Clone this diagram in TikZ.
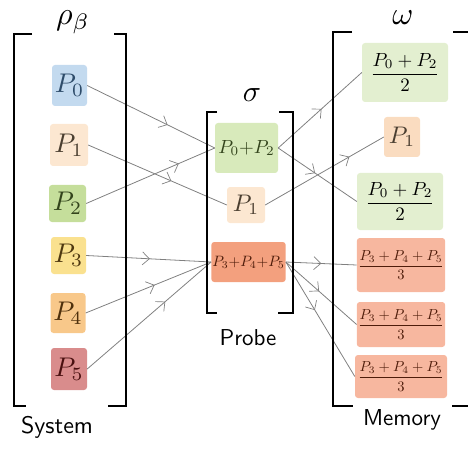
\documentclass[tikz,border=0pt]{standalone}
\usepackage{amsmath}
\usepackage{graphicx}
\usetikzlibrary{arrows.meta,decorations.markings}
\newcommand{\mysz}[2]{\scalebox{#1}{$#2$}}
\definecolor{cBlue}{HTML}{C3DAEF}
\definecolor{tBlue}{HTML}{2E4C6A}
\definecolor{cPeach}{HTML}{FCE7D1}
\definecolor{tPeach}{HTML}{4A3E30}
\definecolor{cGreen}{HTML}{C5DE9B}
\definecolor{tGreen}{HTML}{33441C}
\definecolor{cYellow}{HTML}{FAE18F}
\definecolor{tYellow}{HTML}{4E3810}
\definecolor{cOrange}{HTML}{F8C88A}
\definecolor{tOrange}{HTML}{4E300C}
\definecolor{cRed}{HTML}{D98C8C}
\definecolor{tRed}{HTML}{4A1010}
\definecolor{cLGreen}{HTML}{D8EABB}
\definecolor{cSalmon}{HTML}{F3A07E}
\definecolor{tSalmon}{HTML}{4E1C0A}
\definecolor{cRGreen}{HTML}{E3EFD0}
\definecolor{cRPeach}{HTML}{FADCC0}
\definecolor{cRSalmon}{HTML}{F7B79F}
\definecolor{lineGray}{HTML}{808080}
\tikzset{
  box/.style={fill=#1, rounded corners=3pt, inner sep=1pt, anchor=center},
  flow/.style={draw=lineGray, line width=0.8pt, postaction={decorate},
    decoration={markings, mark=at position #1 with {\arrow{Straight Barb[length=7pt,width=13pt,line width=0.7pt]}}}},
  flow/.default=0.55,
  brk/.style={line width=1.6pt, black}
}
\begin{document}
\begin{tikzpicture}[x=1pt,y=-1pt]
\useasboundingbox (0,0) rectangle (468,449);
% left nodes
\node[box=cBlue, minimum width=35pt, minimum height=41pt, text=tBlue] (P0) at (69.5,85.5) {\mysz{2.7}{P_0}};
\node[box=cPeach, minimum width=38pt, minimum height=42pt, text=tPeach] (P1) at (69,145) {\mysz{2.7}{P_1}};
\node[box=cGreen, minimum width=37pt, minimum height=37pt, text=tGreen] (P2) at (67.5,203.5) {\mysz{2.7}{P_2}};
\node[box=cYellow, minimum width=35pt, minimum height=37pt, text=tYellow] (P3) at (68.5,255.5) {\mysz{2.7}{P_3}};
\node[box=cOrange, minimum width=35pt, minimum height=40pt, text=tOrange] (P4) at (68,313) {\mysz{2.7}{P_4}};
\node[box=cRed, minimum width=36pt, minimum height=42pt, text=tRed] (P5) at (69,369) {\mysz{2.7}{P_5}};
% middle nodes
\node[box=cLGreen, minimum width=63pt, minimum height=50pt, text=tGreen] (M1) at (246.5,148) {\mysz{1.9}{P_0{+}P_2}};
\node[box=cPeach, minimum width=38pt, minimum height=36pt, text=tPeach] (M2) at (246,205) {\mysz{2.4}{P_1}};
\node[box=cSalmon, minimum width=69pt, minimum height=40pt, text=tSalmon] (M3) at (248.5,262) {\mysz{1.5}{P_3{+}P_4{+}P_5}};
% right nodes
\node[box=cRGreen, minimum width=86pt, minimum height=59pt] (R1) at (405,72.5) {\mysz{1.9}{\dfrac{P_0+P_2}{2}}};
\node[box=cRPeach, minimum width=36pt, minimum height=40pt, text=tPeach] (R2) at (402,137) {\mysz{2.4}{P_1}};
\node[box=cRGreen, minimum width=86pt, minimum height=57pt] (R3) at (400,201.5) {\mysz{1.9}{\dfrac{P_0+P_2}{2}}};
\node[box=cRSalmon, minimum width=88pt, minimum height=54pt, text=tSalmon] (R4) at (401,265) {\mysz{1.45}{\dfrac{P_3+P_4+P_5}{3}}};
\node[box=cRSalmon, minimum width=88pt, minimum height=45pt, text=tSalmon] (R5) at (401,324.5) {\mysz{1.45}{\dfrac{P_3+P_4+P_5}{3}}};
\node[box=cRSalmon, minimum width=92pt, minimum height=43pt, text=tSalmon] (R6) at (401,376.5) {\mysz{1.45}{\dfrac{P_3+P_4+P_5}{3}}};
% connectors left
\draw[flow=0.63] (P0.east) -- (M1.west);
\draw[flow=0.6] (P1.east) -- (M2.west);
\draw[flow=0.72] (P2.east) -- (M1.west);
\draw[flow=0.51] (P3.east) -- (M3.west);
\draw[flow=0.55] (P4.east) -- (M3.west);
\draw[flow=0.63] (P5.east) -- (M3.west);
% connectors right
\draw[flow=0.52] (M1.east) -- (R1.west);
\draw[flow=0.47] (M1.east) -- (R3.west);
\draw[flow=0.71] (M2.east) -- (R2.west);
\draw[flow=0.5] (M3.east) -- (R4.west);
\draw[flow=0.47] (M3.east) -- (R5.west);
\draw[flow=0.42] (M3.east) -- (R6.west);
% brackets
\draw[brk] (32,34) -- (14,34) -- (14,406) -- (26,406);
\draw[brk] (114,34) -- (126,34) -- (126,406) -- (108,406);
\draw[brk] (217,112) -- (207,112) -- (207,313) -- (217,313);
\draw[brk] (279,112) -- (293,112) -- (293,313) -- (278,313);
\draw[brk] (352,32) -- (333,32) -- (333,406) -- (353,406);
\draw[brk] (453,32) -- (468,32);
\draw[brk] (452,406) -- (468,406);
% labels
\node (rho) at (73,22) {\mysz{3.2}{\rho_\beta}};
\node (sig) at (252,95) {\mysz{3.0}{\sigma}};
\node (om) at (403,18) {\mysz{3.2}{\omega}};
\node (sys) at (57,427) {\scalebox{2.4}{\sffamily System}};
\node (prb) at (248,338) {\scalebox{2.3}{\sffamily Probe}};
\node (mem) at (402,420) {\scalebox{2.3}{\sffamily Memory}};
\end{tikzpicture}
\end{document}
